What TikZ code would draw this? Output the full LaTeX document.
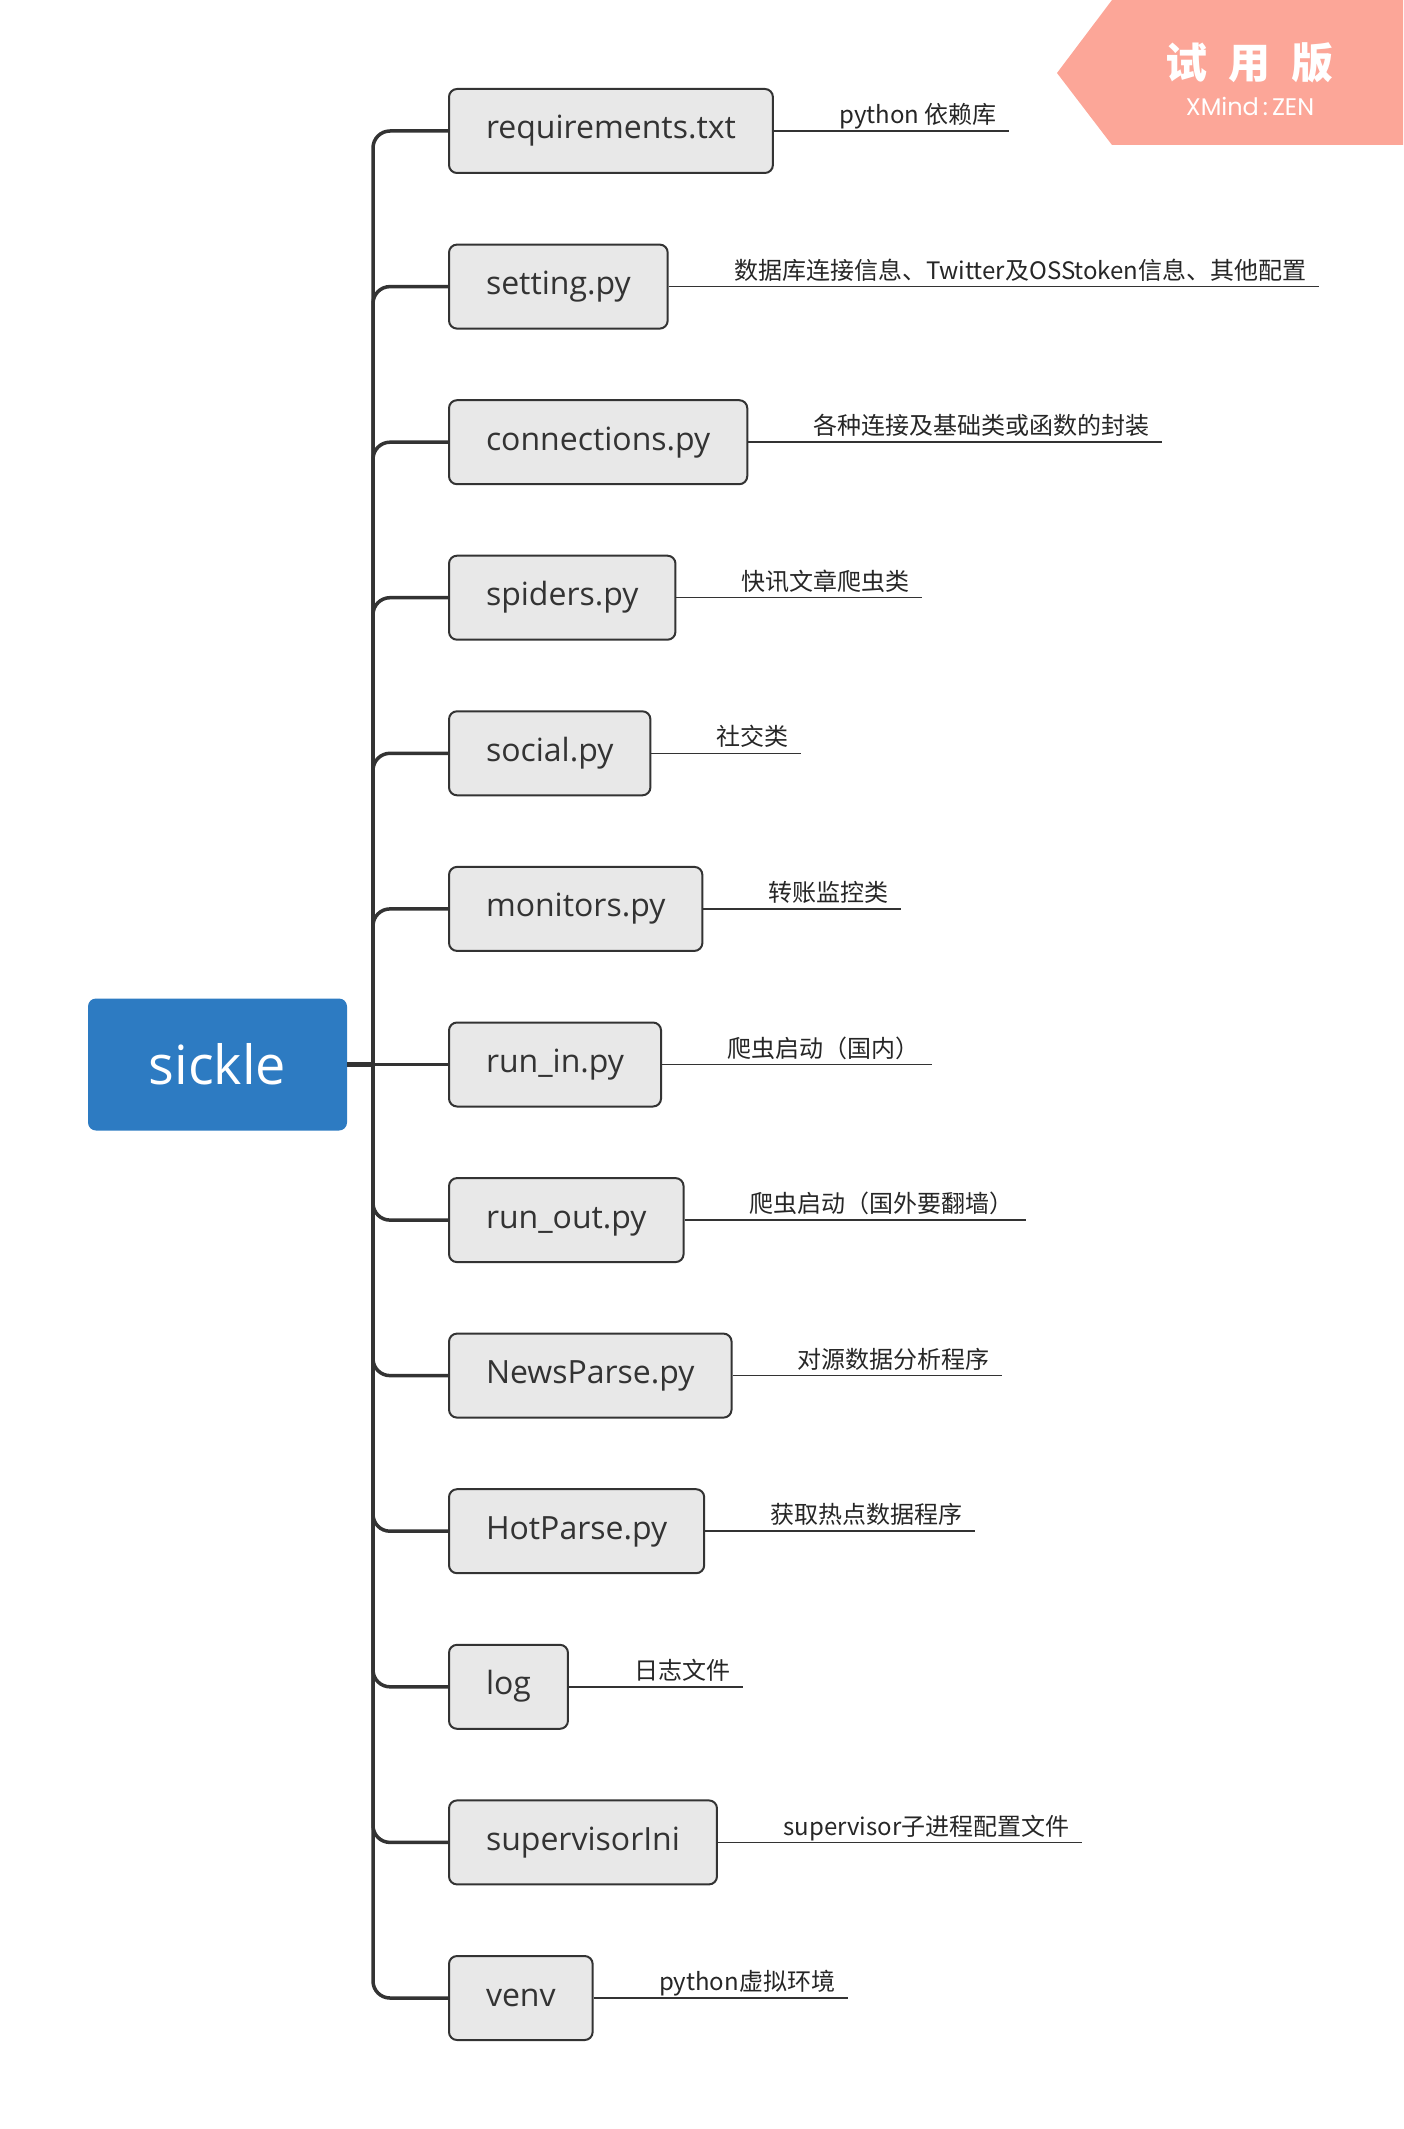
\documentclass[tikz,border=0pt]{standalone}
\usepackage{fontspec}
\setmainfont{Open Sans}
\newfontfamily\cjk{Noto Sans CJK SC}
\newfontfamily\wmfont{Poppins}
\usetikzlibrary{positioning}
\definecolor{rootblue}{RGB}{45,123,194}
\definecolor{filegray}{RGB}{232,232,232}
\definecolor{linegray}{RGB}{51,51,51}
\definecolor{wmpink}{RGB}{252,166,152}
\tikzstyle{root} = [rectangle, fill=rootblue, text=white, rounded corners=4pt,
     minimum width=129.5pt, minimum height=66pt, font=\fontsize{27}{32}\selectfont]
\tikzstyle{file} = [rectangle, draw=linegray, line width=1pt, fill=filegray, text=linegray,
     rounded corners=4pt, minimum height=42pt, inner xsep=18.5pt, anchor=west,
     text height=0.8em, text depth=0pt, font=\fontsize{16}{19}\selectfont]
\tikzstyle{note} = [inner xsep=6pt, inner ysep=1pt, text depth=0.25em, text=black!85,
     font=\cjk\fontsize{12}{14}\selectfont]
\tikzstyle{branch} = [line width=1.75pt, draw=linegray, rounded corners=8.5pt]
\tikzstyle{noteline} = [line width=0.75pt, draw=linegray]
\begin{document}
\begin{tikzpicture}[x=0.5pt, y=-0.5pt]
     \useasboundingbox (0,0) rectangle (1403,2129);

     % Watermark
     \fill[wmpink] (1057,73) -- (1112,0) -- (1403,0) -- (1403,145) -- (1112,145) -- cycle;
     \node[text=white, font=\cjk\bfseries\fontsize{21}{24}\selectfont] (trial) at (1249,63) {试\hspace{10.5pt}用\hspace{10.5pt}版};
     \node[text=white, font=\wmfont\fontsize{12}{14}\selectfont] (brand) at (1250,106) {XMind\,:\,ZEN};

     % Nodes
     \node [root] (sickle) at (217.5,1064.5) {sickle};
     \coordinate (hub) at (373,1064.5);
     \node [file] (req) at (448,131) {requirements.txt};
     \node [file] (setting) at (448,286.6) {setting.py};
     \node [file] (conn) at (448,442.2) {connections.py};
     \node [file] (spiders) at (448,597.7) {spiders.py};
     \node [file] (social) at (448,753.3) {social.py};
     \node [file] (monitors) at (448,908.9) {monitors.py};
     \node [file] (runin) at (448,1064.5) {run\_in.py};
     \node [file] (runout) at (448,1220.1) {run\_out.py};
     \node [file] (newsparse) at (448,1375.6) {NewsParse.py};
     \node [file] (hotparse) at (448,1531.2) {HotParse.py};
     \node [file] (log) at (448,1686.8) {log};
     \node [file] (supervisor) at (448,1842.4) {supervisorIni};
     \node [file] (venv) at (448,1998) {venv};

     % Notes
     \node [note, above right=0pt and 26.5pt of req.east] (reqnote) {python 依赖库};
     \node [note, above right=0pt and 26.5pt of setting.east] (settingnote) {数据库连接信息、Twitter及OSStoken信息、其他配置};
     \node [note, above right=0pt and 26.5pt of conn.east] (connnote) {各种连接及基础类或函数的封装};
     \node [note, above right=0pt and 26.5pt of spiders.east] (spidersnote) {快讯文章爬虫类};
     \node [note, above right=0pt and 26.5pt of social.east] (socialnote) {社交类};
     \node [note, above right=0pt and 26.5pt of monitors.east] (monitorsnote) {转账监控类};
     \node [note, above right=0pt and 26.5pt of runin.east] (runinnote) {爬虫启动（国内）};
     \node [note, above right=0pt and 26.5pt of runout.east] (runoutnote) {爬虫启动（国外要翻墙）};
     \node [note, above right=0pt and 26.5pt of newsparse.east] (newsparsenote) {对源数据分析程序};
     \node [note, above right=0pt and 26.5pt of hotparse.east] (hotparsenote) {获取热点数据程序};
     \node [note, above right=0pt and 26.5pt of log.east] (lognote) {日志文件};
     \node [note, above right=0pt and 26.5pt of supervisor.east] (supervisornote) {supervisor子进程配置文件};
     \node [note, above right=0pt and 26.5pt of venv.east] (venvnote) {python虚拟环境};

     % Branches
     \draw [line width=2.5pt, draw=linegray] (sickle.east) -- (hub);
     \draw [branch] (hub) |- (req.west);
     \draw [branch] (hub) |- (setting.west);
     \draw [branch] (hub) |- (conn.west);
     \draw [branch] (hub) |- (spiders.west);
     \draw [branch] (hub) |- (social.west);
     \draw [branch] (hub) |- (monitors.west);
     \draw [branch] (hub) -- (runin.west);
     \draw [branch] (hub) |- (runout.west);
     \draw [branch] (hub) |- (newsparse.west);
     \draw [branch] (hub) |- (hotparse.west);
     \draw [branch] (hub) |- (log.west);
     \draw [branch] (hub) |- (supervisor.west);
     \draw [branch] (hub) |- (venv.west);

     % Note lines
     \draw [noteline] (req.east) -- (reqnote.south east);
     \draw [noteline] (setting.east) -- (settingnote.south east);
     \draw [noteline] (conn.east) -- (connnote.south east);
     \draw [noteline] (spiders.east) -- (spidersnote.south east);
     \draw [noteline] (social.east) -- (socialnote.south east);
     \draw [noteline] (monitors.east) -- (monitorsnote.south east);
     \draw [noteline] (runin.east) -- (runinnote.south east);
     \draw [noteline] (runout.east) -- (runoutnote.south east);
     \draw [noteline] (newsparse.east) -- (newsparsenote.south east);
     \draw [noteline] (hotparse.east) -- (hotparsenote.south east);
     \draw [noteline] (log.east) -- (lognote.south east);
     \draw [noteline] (supervisor.east) -- (supervisornote.south east);
     \draw [noteline] (venv.east) -- (venvnote.south east);
\end{tikzpicture}
\end{document}
